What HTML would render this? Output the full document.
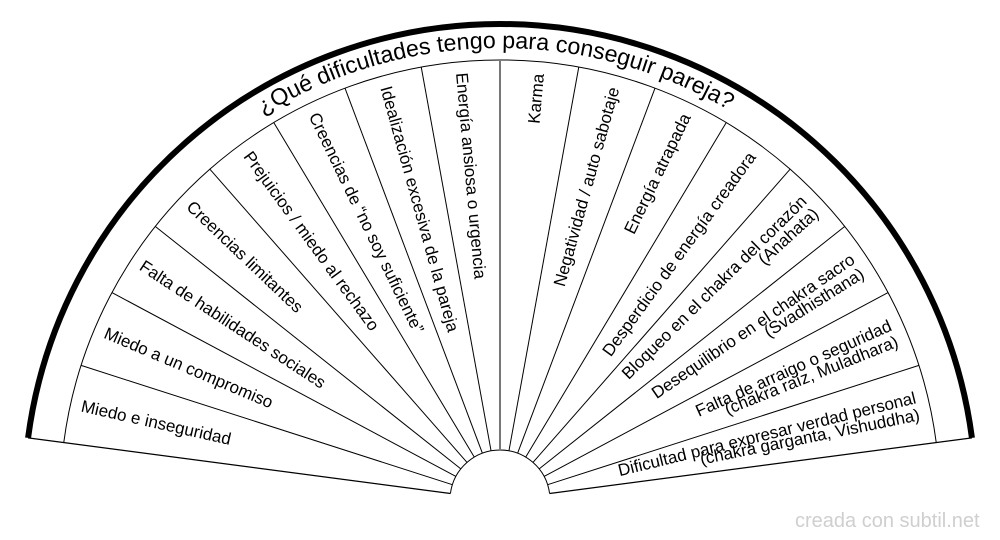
<!DOCTYPE html>
<html>
<head>
<meta charset="utf-8">
<style>
  html, body { margin: 0; padding: 0; background: #fff; }
  svg { display: block; }
  text { font-family: "Liberation Sans", Arial, sans-serif; fill: #000; }
  .lbl { font-size: 17px; }
</style>
</head>
<body>
<svg width="1000" height="540" viewBox="0 0 1000 540" xmlns="http://www.w3.org/2000/svg">
  <rect x="0" y="0" width="1000" height="540" fill="#fff"/>

  <!-- arcs -->
  <path d="M 28.07 437.87 A 476 476 0 0 1 971.93 437.87" fill="none" stroke="#000" stroke-width="6"/>
  <path d="M 63.76 442.57 A 440 440 0 0 1 936.24 442.57" fill="none" stroke="#000" stroke-width="1"/>
  <path d="M 450.43 493.47 A 50 50 0 0 1 549.57 493.47" fill="none" stroke="#000" stroke-width="1"/>

  <!-- boundary lines -->
  <g stroke="#000" stroke-width="1.2" transform="translate(500,500)">
    <line x1="0" y1="-50" x2="0" y2="-476" transform="rotate(-82.5)"/>
    <line x1="0" y1="-50" x2="0" y2="-476" transform="rotate(82.5)"/>
  </g>

  <!-- dividers -->
  <g stroke="#000" stroke-width="1" transform="translate(500,500)">
    <line x1="0" y1="-50" x2="0" y2="-440" transform="rotate(-72.1875)"/>
    <line x1="0" y1="-50" x2="0" y2="-440" transform="rotate(-61.875)"/>
    <line x1="0" y1="-50" x2="0" y2="-440" transform="rotate(-51.5625)"/>
    <line x1="0" y1="-50" x2="0" y2="-440" transform="rotate(-41.25)"/>
    <line x1="0" y1="-50" x2="0" y2="-440" transform="rotate(-30.9375)"/>
    <line x1="0" y1="-50" x2="0" y2="-440" transform="rotate(-20.625)"/>
    <line x1="0" y1="-50" x2="0" y2="-440" transform="rotate(-10.3125)"/>
    <line x1="0" y1="-50" x2="0" y2="-440" transform="rotate(10.3125)"/>
    <line x1="0" y1="-50" x2="0" y2="-440" transform="rotate(20.625)"/>
    <line x1="0" y1="-50" x2="0" y2="-440" transform="rotate(30.9375)"/>
    <line x1="0" y1="-50" x2="0" y2="-440" transform="rotate(41.25)"/>
    <line x1="0" y1="-50" x2="0" y2="-440" transform="rotate(51.5625)"/>
    <line x1="0" y1="-50" x2="0" y2="-440" transform="rotate(61.875)"/>
    <line x1="0" y1="-50" x2="0" y2="-440" transform="rotate(72.1875)"/>
  </g>
  <line x1="500" y1="450" x2="500" y2="60" stroke="#777" stroke-width="2"/>

  <!-- title -->
  <path id="tp" d="M 48 500 A 452 452 0 0 1 952 500" fill="none"/>
  <text font-size="23.2"><textPath href="#tp" startOffset="705" text-anchor="middle">¿Qué dificultades tengo para conseguir pareja?</textPath></text>

  <!-- left labels -->
  <g class="lbl" dominant-baseline="central">
    <text transform="translate(500,500) rotate(12.656)" x="-429" text-anchor="start">Miedo e inseguridad</text>
    <text transform="translate(500,500) rotate(22.969)" x="-429" text-anchor="start">Miedo a un compromiso</text>
    <text transform="translate(500,500) rotate(33.281)" x="-429" text-anchor="start">Falta de habilidades sociales</text>
    <text transform="translate(500,500) rotate(43.594)" x="-429" text-anchor="start">Creencias limitantes</text>
    <text transform="translate(500,500) rotate(53.906)" x="-429" text-anchor="start">Prejuicios / miedo al rechazo</text>
    <text transform="translate(500,500) rotate(64.219)" x="-429" text-anchor="start">Creencias de “no soy suficiente”</text>
    <text transform="translate(500,500) rotate(74.531)" x="-429" text-anchor="start">Idealización excesiva de la pareja</text>
    <text transform="translate(500,500) rotate(84.844)" x="-429" text-anchor="start">Energía ansiosa o urgencia</text>
  </g>

  <!-- right labels -->
  <g class="lbl" dominant-baseline="central">
    <text transform="translate(500,500) rotate(-84.844)" x="428" text-anchor="end">Karma</text>
    <text transform="translate(500,500) rotate(-74.531)" x="428" text-anchor="end">Negatividad / auto sabotaje</text>
    <text transform="translate(500,500) rotate(-64.219)" x="428" text-anchor="end">Energía atrapada</text>
    <text transform="translate(500,500) rotate(-53.906)" x="428" text-anchor="end">Desperdicio de energía creadora</text>

    <text transform="translate(500,500) rotate(-44.764)" x="428" text-anchor="end">Bloqueo en el chakra del corazón</text>
    <text transform="translate(500,500) rotate(-42.424)" x="428" text-anchor="end">(Anahata)</text>

    <text transform="translate(500,500) rotate(-34.451)" x="428" text-anchor="end">Desequilibrio en el chakra sacro</text>
    <text transform="translate(500,500) rotate(-32.111)" x="428" text-anchor="end">(Svadhisthana)</text>

    <text transform="translate(500,500) rotate(-24.139)" x="428" text-anchor="end">Falta de arraigo o seguridad</text>
    <text transform="translate(500,500) rotate(-21.799)" x="428" text-anchor="end">(chakra raíz, Muladhara)</text>

    <text transform="translate(500,500) rotate(-13.826)" x="428" text-anchor="end">Dificultad para expresar verdad personal</text>
    <text transform="translate(500,500) rotate(-11.486)" x="428" text-anchor="end">(chakra garganta, Vishuddha)</text>
  </g>

  <!-- watermark -->
  <text x="795" y="527" font-size="20" style="fill:#cfcfcf">creada con subtil.net</text>
</svg>
</body>
</html>
